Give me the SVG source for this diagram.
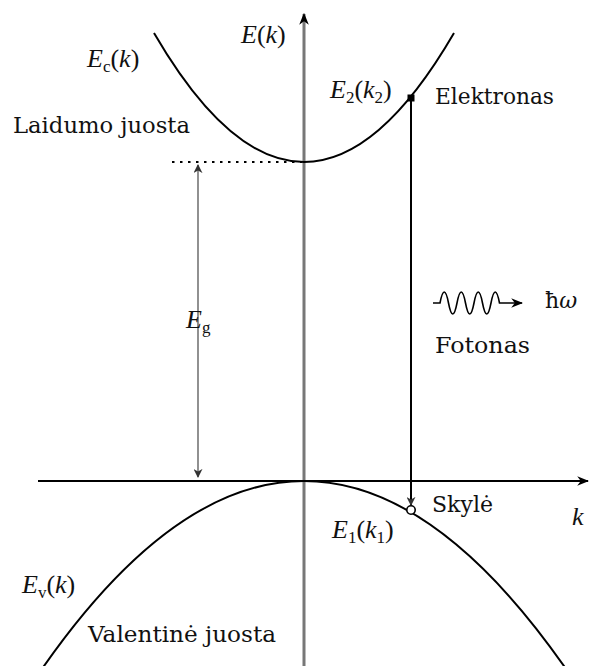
<svg xmlns="http://www.w3.org/2000/svg" width="589" height="666" viewBox="0 0 589 666">
<style>
.txt{font-family:"DejaVu Serif","Liberation Serif",serif;font-size:22px;fill:#111}
.math{font-family:"Liberation Serif","DejaVu Serif",serif;font-style:italic;font-size:26px;fill:#111}
.sub{font-size:17px;font-style:normal}
.curve{fill:none;stroke:#000;stroke-width:2}
</style>
<defs>
<marker id="ahg" viewBox="0 0 10 10" refX="9" refY="5" markerWidth="9" markerHeight="9" orient="auto-start-reverse" markerUnits="userSpaceOnUse">
<path d="M0,0 L10,5 L0,10 L3,5 Z" fill="#333"/>
</marker>
<marker id="ahb" viewBox="0 0 10 10" refX="9" refY="5" markerWidth="12" markerHeight="12" orient="auto" markerUnits="userSpaceOnUse">
<path d="M0,1 L10,5 L0,9 L3,5 Z" fill="#000"/>
</marker>
</defs>
<rect width="589" height="666" fill="#fff"/>
<g id="axes">
<line x1="304" y1="666" x2="304" y2="14" stroke="#777" stroke-width="3" marker-end="url(#ahb)"/>
<line x1="38" y1="481" x2="588" y2="481" stroke="#000" stroke-width="2" marker-end="url(#ahb)"/>
</g>
<g id="bands">
<path class="curve" d="M154,33 Q304,291 454,33"/>
<path class="curve" d="M33,682 Q304,280 575,682"/>
<line x1="172" y1="162" x2="302" y2="162" stroke="#000" stroke-width="2" stroke-dasharray="2.5 5.5"/>
</g>
<g id="connectors">
<line x1="198" y1="165" x2="198" y2="477" stroke="#555" stroke-width="1.3" marker-start="url(#ahg)" marker-end="url(#ahg)"/>
<line x1="411" y1="98" x2="411" y2="505" stroke="#000" stroke-width="2" marker-end="url(#ahg)"/>
<path d="M433,303 L440,303 q4.25,-22 8.5,0 t8.5,0 t8.5,0 t8.5,0 t8.5,0 t8.5,0 t8.5,0 L522,303" fill="none" stroke="#000" stroke-width="1.6" marker-end="url(#ahb)"/>
</g>
<g id="electron"><rect x="407.5" y="94.5" width="7" height="7" fill="#000"/></g>
<g id="hole"><circle cx="411" cy="510" r="4.2" fill="#fff" stroke="#000" stroke-width="1.6"/></g>
<g id="labels">
<text class="math" x="241" y="43">E<tspan font-style="normal">(</tspan>k<tspan font-style="normal">)</tspan></text>
<text class="math" x="87" y="67">E<tspan class="sub" dy="5">c</tspan><tspan dy="-5" font-style="normal">(</tspan>k<tspan font-style="normal">)</tspan></text>
<text class="math" x="330" y="98">E<tspan class="sub" dy="5">2</tspan><tspan dy="-5" font-style="normal">(</tspan>k<tspan class="sub" dy="5">2</tspan><tspan dy="-5" font-style="normal">)</tspan></text>
<text class="math" x="332" y="538">E<tspan class="sub" dy="5">1</tspan><tspan dy="-5" font-style="normal">(</tspan>k<tspan class="sub" dy="5">1</tspan><tspan dy="-5" font-style="normal">)</tspan></text>
<text class="math" x="22" y="593">E<tspan class="sub" dy="5">v</tspan><tspan dy="-5" font-style="normal">(</tspan>k<tspan font-style="normal">)</tspan></text>
<text class="math" x="186" y="328">E<tspan class="sub" dy="5">g</tspan></text>
<text class="math" x="572" y="525">k</text>
<text class="txt" x="545" y="308" font-size="20">ħ<tspan font-style="italic">ω</tspan></text>
<text class="txt" x="13" y="133" textLength="177" lengthAdjust="spacingAndGlyphs">Laidumo juosta</text>
<text class="txt" x="435" y="104" textLength="119" lengthAdjust="spacingAndGlyphs">Elektronas</text>
<text class="txt" x="435" y="353" textLength="95" lengthAdjust="spacingAndGlyphs">Fotonas</text>
<text class="txt" x="432" y="512" textLength="61" lengthAdjust="spacingAndGlyphs">Skylė</text>
<text class="txt" x="88" y="642" textLength="188" lengthAdjust="spacingAndGlyphs">Valentinė juosta</text>
</g>
</svg>
